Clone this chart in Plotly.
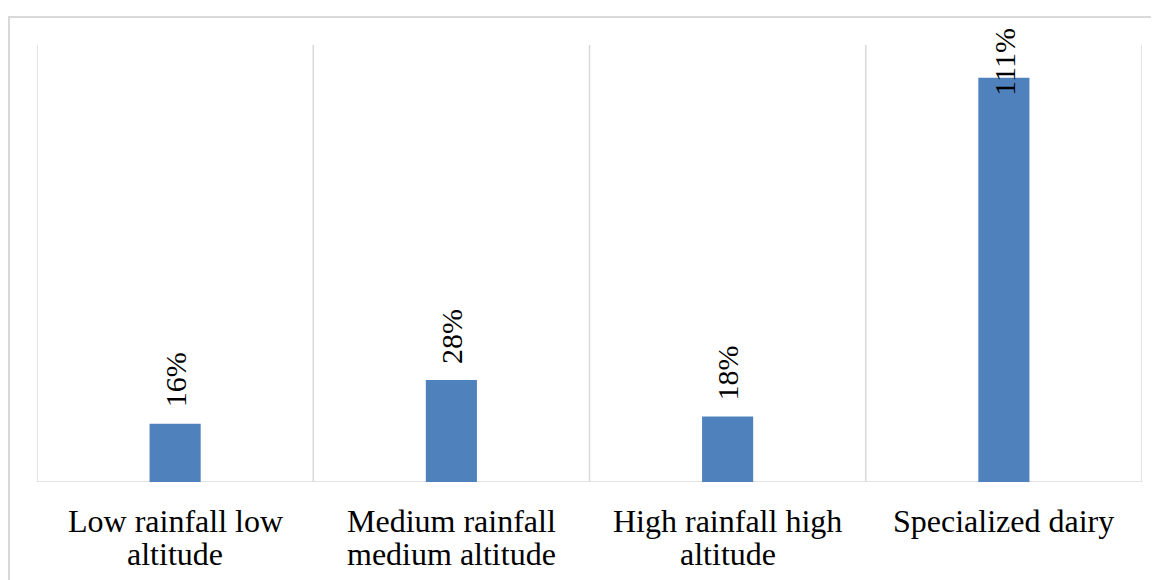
import plotly.graph_objects as go

categories = ["Low rainfall low<br>altitude", "Medium rainfall<br>medium altitude",
              "High rainfall high<br>altitude", "Specialized dairy"]
values = [0.16, 0.28, 0.18, 1.11]
labels = ["16%", "28%", "18%", "111%"]

W, H = 1159, 580
# the page adds an 8px body margin, so figure coords are screen coords minus 8
L, R, T, B = 29, 25, 37, 106
YMAX = 1.2
FONT = "Liberation Serif"
GRID = "#d9d9d9"

fig = go.Figure()
n = len(categories)
fig.add_trace(go.Bar(
    x=list(range(n)), y=values, width=0.185,
    marker=dict(color="#4F81BD", line=dict(width=0)),
    hoverinfo="skip",
))

plot_h = H - T - B
px_per_unit = plot_h / YMAX
label_box_px = 73
max_bottom = plot_h + 20 - label_box_px
for i, (v, lab) in enumerate(zip(values, labels)):
    bottom_px = min(v * px_per_unit + 14, max_bottom)
    fig.add_annotation(
        x=i, y=0, xref="x", yref="y", text=lab, showarrow=False,
        textangle=-90, yanchor="bottom", xanchor="center",
        yshift=bottom_px, font=dict(family=FONT, size=30, color="black"),
    )

# category labels (two lines, tighter line spacing than plotly's default)
for i, cat in enumerate(categories):
    for j, line in enumerate(cat.split("<br>")):
        fig.add_annotation(
            x=i, y=0, xref="x", yref="paper", text=line, showarrow=False,
            yanchor="middle", xanchor="center", yshift=-39 - 33 * j,
            font=dict(family=FONT, size=32, color="black"),
        )

shapes = []
for k in range(n + 1):
    shapes.append(dict(type="line", xref="x", yref="paper", x0=k - 0.5, x1=k - 0.5,
                       y0=0, y1=1, line=dict(color=GRID, width=1.5), layer="below"))
shapes.append(dict(type="line", xref="paper", yref="y", x0=0, x1=1, y0=0, y1=0,
                   line=dict(color=GRID, width=1.5), layer="below"))
# outer chart border
pw = W - L - R
shapes.append(dict(type="rect", xref="paper", yref="paper",
                   x0=(1 - L) / pw, x1=1.2,
                   y0=-0.5, y1=(H - B - 9) / plot_h,
                   line=dict(color=GRID, width=2), fillcolor="rgba(0,0,0,0)", layer="below"))

fig.update_layout(
    width=W, height=H,
    margin=dict(l=L, r=R, t=T, b=B),
    plot_bgcolor="white", paper_bgcolor="white",
    showlegend=False, shapes=shapes,
    xaxis=dict(range=[-0.5, n - 0.5], showticklabels=False, showgrid=False,
               zeroline=False, showline=False, ticks=""),
    yaxis=dict(range=[0, YMAX], visible=False, showgrid=False, zeroline=False),
)

fig.write_html("out.html")
